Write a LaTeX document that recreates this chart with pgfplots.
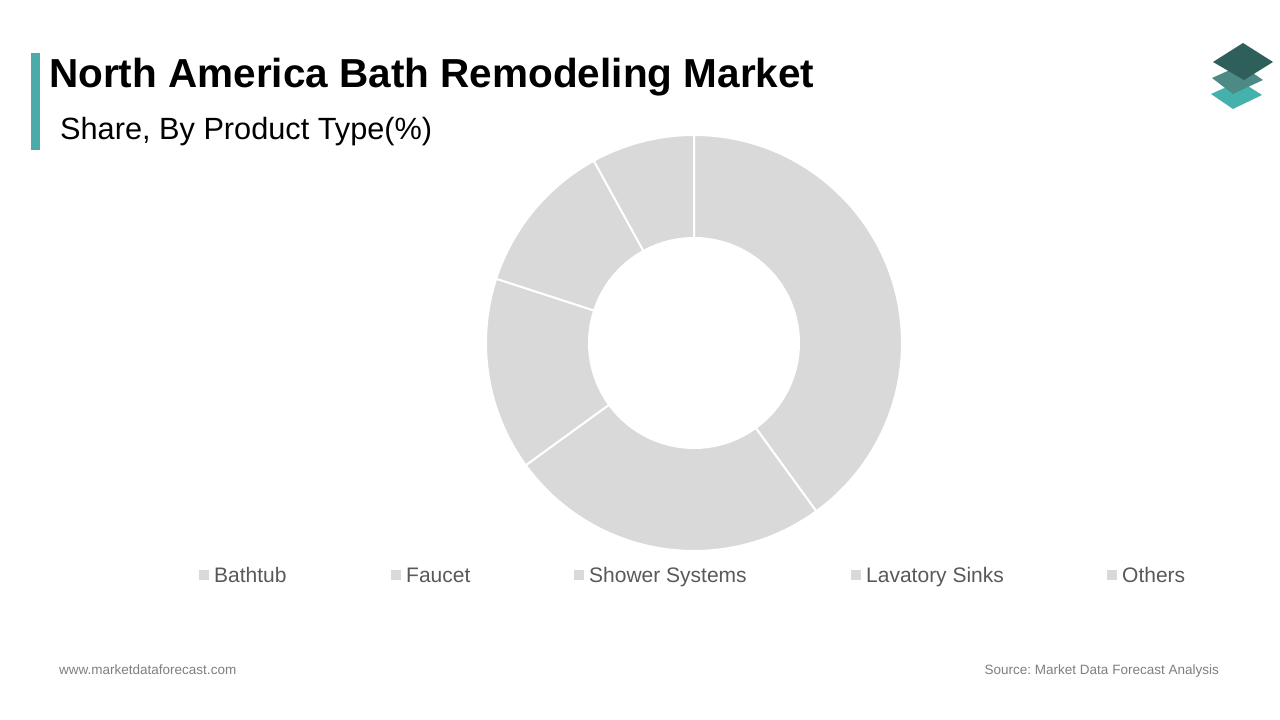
\documentclass[border=0pt]{standalone}
\usepackage{pgfplots}
\pgfplotsset{compat=1.18}
\usepackage{pgfplotstable}
\usepackage{fontspec}
\setmainfont{Liberation Sans}
\definecolor{slicegray}{HTML}{D9D9D9}
\definecolor{barteal}{HTML}{4AABAA}
\definecolor{legtext}{HTML}{595959}
\definecolor{foottext}{HTML}{7F7F7F}
\definecolor{logoA}{HTML}{2F5F5B}
\definecolor{logoB}{HTML}{4D8A86}
\definecolor{logoC}{HTML}{45B1AC}

\pgfplotstableread{
label value
Bathtub 40
Faucet 25
Shower 15
Lavatory 12
Others 8
}\sharetable

\gdef\cum{0}
\pgfplotstableforeachcolumnelement{value}\of\sharetable\as\v{%
  \pgfmathsetmacro\sa{90-3.6*\cum}%
  \pgfmathsetmacro\ea{90-3.6*(\cum+\v)}%
  \expandafter\xdef\csname sA\pgfplotstablerow\endcsname{\sa}%
  \expandafter\xdef\csname eA\pgfplotstablerow\endcsname{\ea}%
  \pgfmathsetmacro\newcum{\cum+\v}%
  \xdef\cum{\newcum}%
}

\begin{document}
\frenchspacing
\begin{tikzpicture}[x=1pt,y=1pt]
\path[use as bounding box, fill=white] (0,0) rectangle (1280,720);

% header bar
\fill[barteal] (31,570) rectangle (40,667);
\node[anchor=base west, inner sep=0pt] at (49,632)
  {\fontsize{40.5}{48}\selectfont\bfseries North America Bath Remodeling Market};
\node[anchor=base west, inner sep=0pt] at (60,580)
  {\fontsize{30.7}{36}\selectfont Share, By Product Type(\%)};

% logo
\fill[logoC] (1211,626) -- (1233,611) -- (1262,625) -- (1240,639) -- cycle;
\fill[logoB] (1212,642) -- (1233,626) -- (1263,640) -- (1241,655) -- cycle;
\fill[logoA] (1213,658) -- (1244,640) -- (1273,658) -- (1243,677) -- cycle;

% donut
\begin{axis}[at={(694pt,377pt)}, anchor=origin, x=208pt, y=208pt,
  xmin=-1, xmax=1, ymin=-1, ymax=1, hide axis, clip=false]
\pgfplotsinvokeforeach{0,1,2,3,4}{%
  \fill[slicegray, draw=white, line width=2pt]
    (axis cs:0,0) ++(\csname sA#1\endcsname:208pt)
    arc[start angle=\csname sA#1\endcsname, end angle=\csname eA#1\endcsname, radius=208pt]
    -- ++(\csname eA#1\endcsname:-103pt)
    arc[start angle=\csname eA#1\endcsname, end angle=\csname sA#1\endcsname, radius=105pt]
    -- cycle;
}
\end{axis}

% legend
\foreach \sx/\lab in {199/Bathtub, 391/Faucet, 574/Shower Systems, 851/Lavatory Sinks, 1107/Others}{
  \fill[slicegray] (\sx,140) rectangle ++(10,10);
  \node[anchor=base west, inner sep=0pt, text=legtext] at (\sx+15,137)
    {\fontsize{21}{25}\selectfont \lab};
}

% footer
\node[anchor=base west, inner sep=0pt, text=foottext] at (59,45)
  {\fontsize{13.5}{16}\selectfont www.marketdataforecast.com};
\node[anchor=base east, inner sep=0pt, text=foottext] at (1219,45)
  {\fontsize{13.5}{16}\selectfont Source: Market Data Forecast Analysis};
\end{tikzpicture}
\end{document}
